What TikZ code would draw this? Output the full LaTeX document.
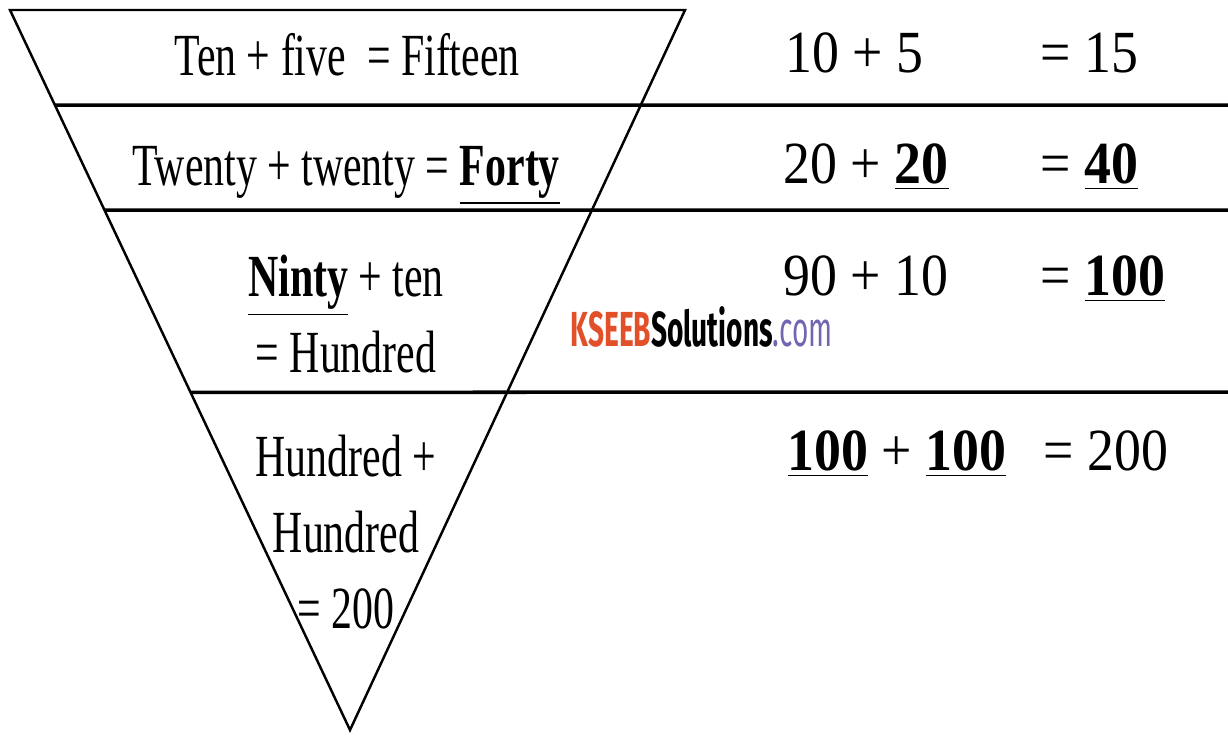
\documentclass[tikz,border=0pt]{standalone}
\usepackage{fontspec}
\usepackage{tikz}
\usetikzlibrary{calc}
\setmainfont{Liberation Serif}[FakeStretch=0.7]
\newfontfamily\numfont{Liberation Serif}[FakeStretch=0.9]
\newfontfamily\wmfont{Fira Sans}[FakeStretch=0.57]
\definecolor{wmred}{HTML}{E2502A}
\definecolor{wmpurple}{HTML}{7465B0}

\tikzset{
    rule/.style={line width=1pt},
    edge/.style={line width=0.7pt},
    txt/.style={font=\fontsize{17}{21.5}\selectfont, inner sep=0pt, align=center},
    num/.style={font=\numfont\fontsize{17}{21.5}\selectfont, inner sep=0pt, anchor=base west},
}

\begin{document}
\begin{tikzpicture}[x=0.01cm,y=-0.01cm]
        \useasboundingbox (0,0) rectangle (1228,735);

            \coordinate (tl) at (10,10);
            \coordinate (tr) at (685,10);
            \coordinate (apex) at (350,730);

            \draw[edge] (tl) -- (tr) -- (apex) -- cycle;
            \draw[rule] ($(tl)!0.132!(apex)$) -- (1228,105);
            \draw[rule] ($(tl)!0.278!(apex)$) -- (1228,210);
            \draw[rule] ($(tl)!0.531!(apex)$) -- (1228,392);

            \node[txt, anchor=base] (ten) at (347,75) {Ten + five\ \ = Fifteen};
            \node[txt, anchor=base] (twenty) at (346,185) {Twenty + twenty = \underline{\textbf{Forty}}};
            \node[txt] (ninty) at (346,314) {\underline{\textbf{Ninty}} + ten\\= Hundred};
            \node[txt] (hundred) at (346,532) {Hundred +\\Hundred\\= 200};

            \node[num] (sumA) at (785,72) {10 + 5};
            \node[num] (resA) at (1040,72) {= 15};
            \node[num] (sumB) at (783,183) {20 + \underline{\textbf{20}}};
            \node[num] (resB) at (1040,183) {= \underline{\textbf{40}}};
            \node[num] (sumC) at (783,295) {90 + 10};
            \node[num] (resC) at (1040,295) {= \underline{\textbf{100}}};
            \node[num] (sumD) at (787,470) {\underline{\textbf{100}} + \underline{\textbf{100}}};
            \node[num] (resD) at (1043,470) {= 200};

            \node[inner sep=0pt, anchor=base west, font=\wmfont\fontsize{14}{16}\selectfont] (mark) at (570,346)
                {\textcolor{wmred}{\textbf{KSEEB}}\textbf{Solutions}\textcolor{wmpurple}{.com}};
        \end{tikzpicture}
\end{document}
